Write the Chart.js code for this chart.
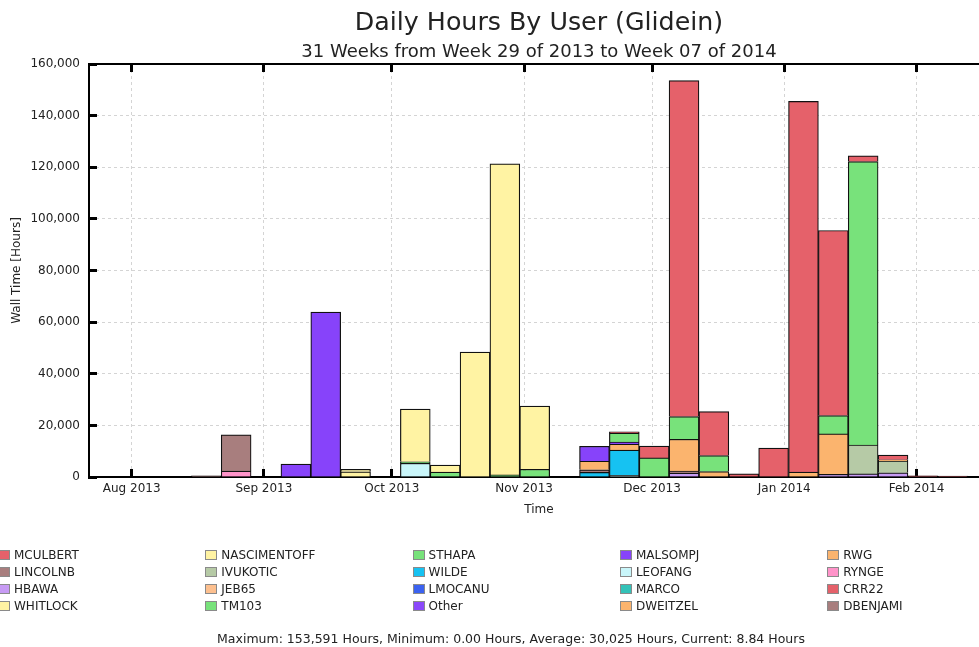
<!DOCTYPE html>
<html>
<head>
<meta charset="utf-8">
<script src="https://cdn.jsdelivr.net/npm/chart.js@4.4.0/dist/chart.umd.min.js"></script>
<style>
    html, body { margin: 0; padding: 0; background: #fff; overflow: hidden; }
    #wrap { position: relative; width: 989px; height: 647px; font-family: "DejaVu Sans", sans-serif; color: #222; }
    #chart { position: absolute; left: 0; top: 0; }
    .title { position: absolute; left: 89px; width: 900px; text-align: center; white-space: nowrap; }
    #title { top: 7px; font-size: 25.3px; }
    #subtitle { top: 40px; font-size: 18px; }
    #legend { position: absolute; left: 0; top: 0; }
    .item { position: absolute; font-size: 12px; line-height: 14px; white-space: nowrap; }
    .box { position: absolute; width: 10px; height: 8px; border: 1px solid #8a8a8a; }
    #footer { position: absolute; left: 0; width: 1022px; top: 631px; text-align: center; font-size: 12.5px; white-space: nowrap; }
</style>
</head>
<body>
<div id="wrap">
    <canvas id="chart" width="989" height="647"></canvas>
    <div class="title" id="title">Daily Hours By User (Glidein)</div>
    <div class="title" id="subtitle">31 Weeks from Week 29 of 2013 to Week 07 of 2014</div>
    <div id="legend"></div>
    <div id="footer">Maximum: 153,591 Hours, Minimum: 0.00 Hours, Average: 30,025 Hours, Current: 8.84 Hours</div>
</div>
<script>
// x axis is in days counted from 1 Aug 2013, one bar per weekly bin
const firstBinStart = -7
const binDays = 7
const monthTicks = [0, 31, 61, 92, 122, 153, 184]
const monthLabels = ["Aug 2013", "Sep 2013", "Oct 2013", "Nov 2013", "Dec 2013", "Jan 2014", "Feb 2014"]
const yTicks = [0, 20000, 40000, 60000, 80000, 100000, 120000, 140000, 160000]

// users, largest first (legend order), with their colours
const users = ["MCULBERT", "NASCIMENTOFF", "STHAPA", "MALSOMPJ", "RWG",
               "LINCOLNB", "IVUKOTIC", "WILDE", "LEOFANG", "RYNGE",
               "HBAWA", "JEB65", "LMOCANU", "MARCO", "CRR22",
               "WHITLOCK", "TM103", "Other", "DWEITZEL", "DBENJAMI"]
const colors = ["#e5616a", "#fff3a3", "#78e27b", "#8743fa", "#fbb46e",
                "#a87e7e", "#b6caa6", "#16c2f2", "#c9f6fa", "#ff93c9",
                "#c79bf4", "#fdc08f", "#3b62f0", "#33c2b8", "#e5616a",
                "#fff3a3", "#78e27b", "#8a48fa", "#fbb46e", "#a87e7e"]

// wall hours per weekly bin (31 bins)
const MCULBERT     = [0,0,0,0,0, 0,0,0,0,0, 0,0,0,0,0, 0,0,500,4600,130191, 17000,1200,11200,143600,71700, 2200,1800,500,400,0, 8.84]
const NASCIMENTOFF = [0,0,0,0,0, 0,0,0,1000,0, 20400,2700,48400,120500,24500, 0,0,0,0,0, 0,0,0,0,0, 0,0,0,0,0, 0]
const STHAPA       = [0,0,0,0,0, 0,0,0,0,0, 600,1900,0,800,3000, 0,0,3500,7400,8800, 6200,0,0,0,7100, 109800,0,0,0,0, 0]
const MALSOMPJ     = [0,0,0,0,0, 0,5000,63900,0,0, 0,0,0,0,0, 0,5800,800,0,0, 0,0,0,0,0, 0,0,0,0,0, 0]
const RWG          = [0,0,0,0,0, 0,0,0,0,0, 0,0,0,0,0, 0,3300,2300,0,12300, 2100,0,0,1900,15700, 0,500,0,0,0, 0]
const LINCOLNB     = [0,0,0,500,14000, 0,0,0,0,0, 0,0,0,0,0, 0,1000,0,0,800, 0,0,0,0,0, 0,0,0,0,0, 0]
const IVUKOTIC     = [0,0,0,0,0, 0,0,0,0,0, 0,0,0,0,0, 0,0,0,0,0, 0,0,0,0,0, 11200,4600,0,0,0, 0]
const WILDE        = [0,0,0,0,0, 0,0,0,0,0, 0,0,0,0,0, 0,1800,9800,0,0, 0,0,0,0,0, 0,0,0,0,0, 0]
const LEOFANG      = [0,0,0,0,0, 0,0,0,0,0, 5300,0,0,0,0, 0,0,600,0,0, 0,0,0,0,0, 0,0,0,0,0, 0]
const RYNGE        = [0,0,0,0,2300, 0,0,0,0,0, 0,0,0,0,0, 0,0,0,0,0, 0,0,0,0,0, 0,0,0,0,0, 0]
const HBAWA        = [0,0,0,0,0, 0,0,0,0,0, 0,0,0,0,0, 0,0,0,0,1500, 0,0,0,0,1000, 1200,1600,0,0,0, 0]
const WHITLOCK     = [0,0,0,0,0, 0,0,0,2000,0, 0,0,0,0,0, 0,0,0,0,0, 0,0,0,0,0, 0,0,0,0,0, 0]
const EMPTY        = new Array(31).fill(0)

const hours = [MCULBERT, NASCIMENTOFF, STHAPA, MALSOMPJ, RWG,
               LINCOLNB, IVUKOTIC, WILDE, LEOFANG, RYNGE,
               HBAWA, EMPTY, EMPTY, EMPTY, EMPTY,
               WHITLOCK, EMPTY, EMPTY, EMPTY, EMPTY]

Chart.defaults.font.family = "'DejaVu Sans', sans-serif"
Chart.defaults.color = "#222"

// biggest user sits on top of each stack, so build the datasets bottom-up
var datasets = []
for (var i = users.length - 1; i >= 0; i--) {
    datasets.push({
        label: users[i],
        data: hours[i].map((v, k) => ({x: firstBinStart + binDays * k + binDays / 2, y: v})),
        backgroundColor: colors[i],
        borderColor: "#111",
        borderWidth: 1.2,
        barPercentage: 1,
        categoryPercentage: 1
    })
}

function monthTicksOnly(scale) {
    scale.ticks = monthTicks.map((v) => ({value: v}))
}

var frameTicks = {
    offset: false,
    drawTicks: true,
    tickLength: -8,
    tickWidth: 3,
    tickColor: "#000",
    tickBorderDash: []
}

var chart = new Chart(document.getElementById("chart"), {
    type: 'bar',
    data: {datasets: datasets},
    options: {
        responsive: false,
        animation: false,
        layout: {padding: 0},
        plugins: {
            legend: {display: false},
            tooltip: {enabled: false}
        },
        scales: {
            x: {
                type: 'linear',
                stacked: true,
                offset: false,
                position: 'bottom',
                min: -10,
                max: 201,
                afterBuildTicks: monthTicksOnly,
                afterFit: (scale) => { scale.height = 170 },
                ticks: {
                    autoSkip: false,
                    maxRotation: 0,
                    padding: 13,
                    font: {size: 12},
                    callback: (value) => monthLabels[monthTicks.indexOf(value)] || ""
                },
                grid: Object.assign({color: "#d4d4d4", lineWidth: 1}, frameTicks),
                border: {display: true, color: "#000", width: 2, dash: [3, 3]},
                title: {display: true, text: "Time", font: {size: 12}, padding: {top: 0, bottom: 130}}
            },
            xTop: {
                type: 'linear',
                position: 'top',
                offset: false,
                min: -10,
                max: 201,
                afterBuildTicks: monthTicksOnly,
                afterFit: (scale) => { scale.height = 64 },
                ticks: {display: false},
                grid: Object.assign({drawOnChartArea: false}, frameTicks),
                border: {display: true, color: "#000", width: 2}
            },
            y: {
                stacked: true,
                min: 0,
                max: 160000,
                afterBuildTicks: (scale) => { scale.ticks = yTicks.map((v) => ({value: v})) },
                afterFit: (scale) => { scale.width = 89 },
                ticks: {
                    padding: 17,
                    font: {size: 12},
                    callback: (value) => value.toLocaleString('en-US')
                },
                grid: Object.assign({color: "#d4d4d4", lineWidth: 1}, frameTicks),
                border: {display: true, color: "#000", width: 2, dash: [3, 3]},
                title: {display: true, text: "Wall Time [Hours]", font: {size: 12}, padding: {top: 10, bottom: 0}}
            }
        }
    }
})

// five-column legend underneath the plot
var legend = document.getElementById("legend")
users.forEach((name, i) => {
    var col = i % 5
    var row = Math.floor(i / 5)
    var item = document.createElement("div")
    item.className = "item"
    item.style.left = (14 + col * 207.3) + "px"
    item.style.top = (548 + row * 17) + "px"
    item.textContent = name
    var box = document.createElement("div")
    box.className = "box"
    box.style.left = "-16px"
    box.style.top = "2px"
    box.style.background = colors[i]
    item.appendChild(box)
    legend.appendChild(item)
})
</script>
</body>
</html>
